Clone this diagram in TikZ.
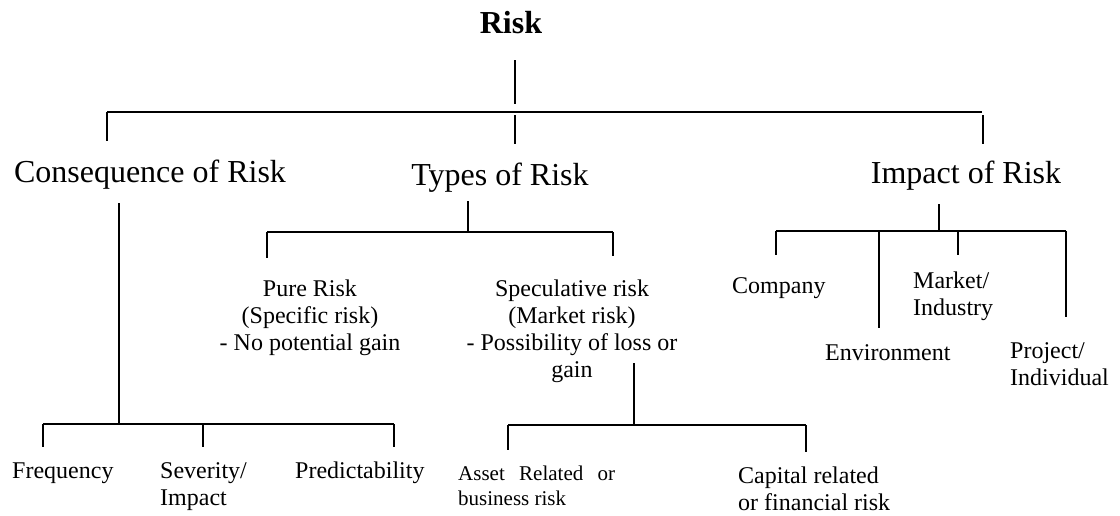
\documentclass[tikz,border=0pt]{standalone}
\usepackage{fontspec}
\setmainfont{Liberation Serif}

\begin{document}
\begin{tikzpicture}[
  x=1pt, y=-1pt,
  head/.style={font=\fontsize{32}{36}\selectfont, inner sep=0pt, anchor=base},
  block/.style={font=\fontsize{24}{26.7}\selectfont, inner sep=0pt, anchor=base, align=center},
  leaf/.style={font=\fontsize{24}{27}\selectfont, inner sep=0pt, anchor=base west, align=left},
  smallleaf/.style={font=\fontsize{21}{25}\selectfont, inner sep=0pt, anchor=base west, align=left},
  link/.style={line width=1.8pt, line cap=butt}
]
\useasboundingbox (0,0) rectangle (1120,515);

% ---------- texts (multi-line nodes are placed by their last baseline) ----------
\node[head, font=\fontsize{32}{36}\selectfont\bfseries] (risk) at (511,33) {Risk};
\node[head] (cons)  at (150,182) {Consequence of Risk};
\node[head] (types) at (500,185) {Types of Risk};
\node[head] (impact) at (966,183) {Impact of Risk};

\node[leaf] (freq) at (12,478)  {Frequency};
\node[leaf] (sev)  at (160,505) {Severity/\\Impact};
\node[leaf] (pred) at (295,478) {Predictability};

\node[block] (pure) at (310,350) {Pure Risk\\(Specific risk)\\- No potential gain};
\node[block] (spec) at (572,377) {Speculative risk\\(Market risk)\\- Possibility of loss or\\gain};

\node[smallleaf] (asset) at (458,505) {\hbox to 157pt{Asset\hfill Related\hfill or}\\business risk};
\node[leaf] (capital) at (738,510) {Capital related\\or financial risk};

\node[leaf] (company) at (732,293)  {Company};
\node[leaf] (market)  at (913,315)  {Market/\\Industry};
\node[leaf] (env)     at (825,360)  {Environment};
\node[leaf] (project) at (1010,385) {Project/\\Individual};

% ---------- top bracket ----------
\coordinate (risk-s) at (515,60);
\coordinate (risk-j) at (515,104);
\coordinate (top-l)  at (107,112);
\coordinate (top-r)  at (982,112);
\coordinate (cons-n) at (107,141);
\coordinate (types-t) at (515,115);
\coordinate (types-n) at (515,144);
\coordinate (impact-t) at (983,115);
\coordinate (impact-n) at (983,144);
\draw[link] (risk-s) -- (risk-j);
\draw[link] (top-l) -- (top-r);
\draw[link] (top-l) -- (cons-n);
\draw[link] (types-t) -- (types-n);
\draw[link] (impact-t) -- (impact-n);

% ---------- consequence bracket ----------
\coordinate (cons-s) at (119,203);
\coordinate (cons-j) at (119,424);
\coordinate (cb-l) at (43,424);
\coordinate (cb-m) at (203,424);
\coordinate (cb-r) at (394,424);
\coordinate (freq-n) at (43,447);
\coordinate (sev-n)  at (203,447);
\coordinate (pred-n) at (394,447);
\draw[link] (cons-s) -- (cons-j);
\draw[link] (cb-l) -- (cb-r);
\draw[link] (cb-l) -- (freq-n);
\draw[link] (cb-m) -- (sev-n);
\draw[link] (cb-r) -- (pred-n);

% ---------- types bracket ----------
\coordinate (types-s) at (468,201);
\coordinate (types-j) at (468,232);
\coordinate (tb-l) at (267,232);
\coordinate (tb-r) at (613,232);
\coordinate (pure-n) at (267,258);
\coordinate (spec-n) at (613,256);
\draw[link] (types-s) -- (types-j);
\draw[link] (tb-l) -- (tb-r);
\draw[link] (tb-l) -- (pure-n);
\draw[link] (tb-r) -- (spec-n);

% ---------- speculative bracket ----------
\coordinate (spec-s) at (634,363);
\coordinate (spec-j) at (634,425);
\coordinate (sb-l) at (508,425);
\coordinate (sb-r) at (806,425);
\coordinate (asset-n) at (508,450);
\coordinate (capital-n) at (806,452);
\draw[link] (spec-s) -- (spec-j);
\draw[link] (sb-l) -- (sb-r);
\draw[link] (sb-l) -- (asset-n);
\draw[link] (sb-r) -- (capital-n);

% ---------- impact bracket ----------
\coordinate (impact-s) at (939,204);
\coordinate (impact-j) at (939,231);
\coordinate (ib-1) at (776,231);
\coordinate (ib-2) at (879,231);
\coordinate (ib-3) at (958,231);
\coordinate (ib-4) at (1066,231);
\coordinate (company-n) at (776,255);
\coordinate (env-n)     at (879,328);
\coordinate (market-n)  at (958,255);
\coordinate (project-n) at (1066,317);
\draw[link] (impact-s) -- (impact-j);
\draw[link] (ib-1) -- (ib-4);
\draw[link] (ib-1) -- (company-n);
\draw[link] (ib-2) -- (env-n);
\draw[link] (ib-3) -- (market-n);
\draw[link] (ib-4) -- (project-n);
\end{tikzpicture}
\end{document}
